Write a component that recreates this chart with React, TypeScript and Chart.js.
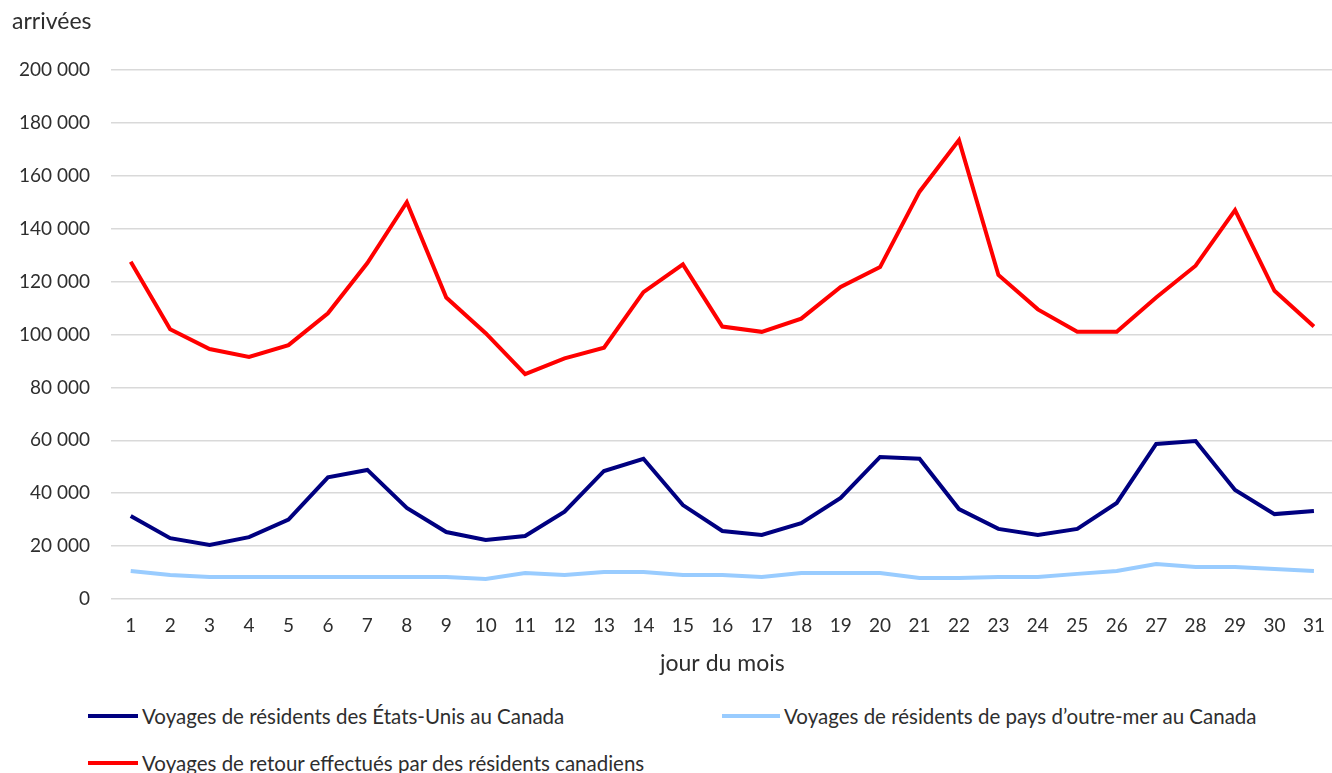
import React, { useEffect, useRef } from "react";
import { Chart, registerables } from "chart.js";

Chart.register(...registerables);

const days = ["1","2","3","4","5","6","7","8","9","10","11","12","13","14","15","16","17","18","19","20","21","22","23","24","25","26","27","28","29","30","31"];

const usResidents = [31400,23000,20400,23400,30000,46000,48800,34400,25300,22300,23800,33000,48400,53000,35500,25700,24200,28700,38200,53700,53000,34000,26500,24200,26500,36300,58600,59700,41200,32100,33300];

const overseasResidents = [10600,9100,8300,8300,8300,8300,8300,8300,8300,7600,9800,9100,10200,10200,9100,9100,8300,9800,9800,9800,7900,7900,8300,8300,9500,10600,13200,12100,12100,11300,10600];

const canadianReturns = [127500,102000,94500,91500,96000,108000,127000,150000,114000,100500,85000,91000,95000,116000,126500,103000,101000,106000,118000,125500,154000,173500,122500,109500,101000,101000,114000,126000,147000,116500,103000];

const seriesLabels = [
  "Voyages de résidents des États-Unis au Canada",
  "Voyages de résidents de pays d’outre-mer au Canada",
  "Voyages de retour effectués par des résidents canadiens",
];
const seriesColors = ["#000080", "#99CCFF", "#FF0000"];
const seriesData = [usResidents, overseasResidents, canadianReturns];

const yTitle = "arrivées";
const xTitle = "jour du mois";

const FONT = "Lato, 'Open Sans', sans-serif";
const TEXT = "#2e2e2e";

function fmt(v: number) {
  return String(v).replace(/\B(?=(\d{3})+(?!\d))/g, " ");
}

export default function App() {
  const ref = useRef<HTMLCanvasElement>(null);
  useEffect(() => {
    if (!ref.current) return;
    const chart = new Chart(ref.current, {
      type: "line",
      data: {
        labels: days,
        datasets: seriesData.map((d, i) => ({
          label: seriesLabels[i],
          data: d,
          borderColor: seriesColors[i],
          backgroundColor: seriesColors[i],
          borderWidth: 4,
          pointRadius: 0,
          tension: 0,
          fill: false,
          order: i === 2 ? 0 : i + 1,
        })),
      },
      options: {
        responsive: false,
        animation: false,
        layout: { padding: { left: 12, right: 3, top: 0, bottom: 1 } },
        plugins: {
          legend: { display: false },
          tooltip: { enabled: false },
          title: {
            display: true,
            text: yTitle,
            align: "start",
            color: TEXT,
            font: { family: FONT, size: 23, weight: "normal" },
            padding: { top: 8, bottom: 34.4 },
          },
        },
        scales: {
          x: {
            offset: true,
            grid: { display: false, drawTicks: false },
            border: { display: false },
            ticks: {
              color: TEXT,
              font: { family: FONT, size: 19 },
              padding: 15,
              maxRotation: 0,
              autoSkip: false,
            },
            title: {
              display: true,
              text: xTitle,
              color: TEXT,
              font: { family: FONT, size: 23 },
              padding: { top: 0, bottom: 12 },
            },
            afterFit: (s: any) => {
              s.height = 90;
            },
          },
          y: {
            min: 0,
            max: 200000,
            grid: { color: "#d9d9d9", lineWidth: 1.5, drawTicks: false },
            border: { display: false },
            ticks: {
              stepSize: 20000,
              color: TEXT,
              font: { family: FONT, size: 19 },
              padding: 21,
              callback: (v: any) => fmt(Number(v)),
            },
            afterFit: (s: any) => {
              s.width = 99;
            },
          },
        },
      },
    });
    return () => chart.destroy();
  }, []);

  const legendPos = [
    { left: 88, top: 716 },
    { left: 722, top: 716 },
    { left: 88, top: 763 },
  ];

  return (
    <div style={{ position: "fixed", left: 0, top: 0, width: 1332, height: 773, overflow: "hidden", background: "#fff" }}>
      <canvas ref={ref} width={1340} height={690} style={{ display: "block" }} />
      {seriesLabels.map((lab, i) => (
        <div
          key={i}
          style={{
            position: "absolute",
            left: legendPos[i].left,
            top: legendPos[i].top - 13,
            height: 26,
            display: "flex",
            alignItems: "center",
            fontFamily: FONT,
            fontSize: 20.5,
            color: TEXT,
            whiteSpace: "nowrap",
          }}
        >
          <span style={{ display: "inline-block", width: i === 1 ? 58 : 50, height: 4, background: seriesColors[i], marginRight: 4 }} />
          <span>{lab}</span>
        </div>
      ))}
    </div>
  );
}
